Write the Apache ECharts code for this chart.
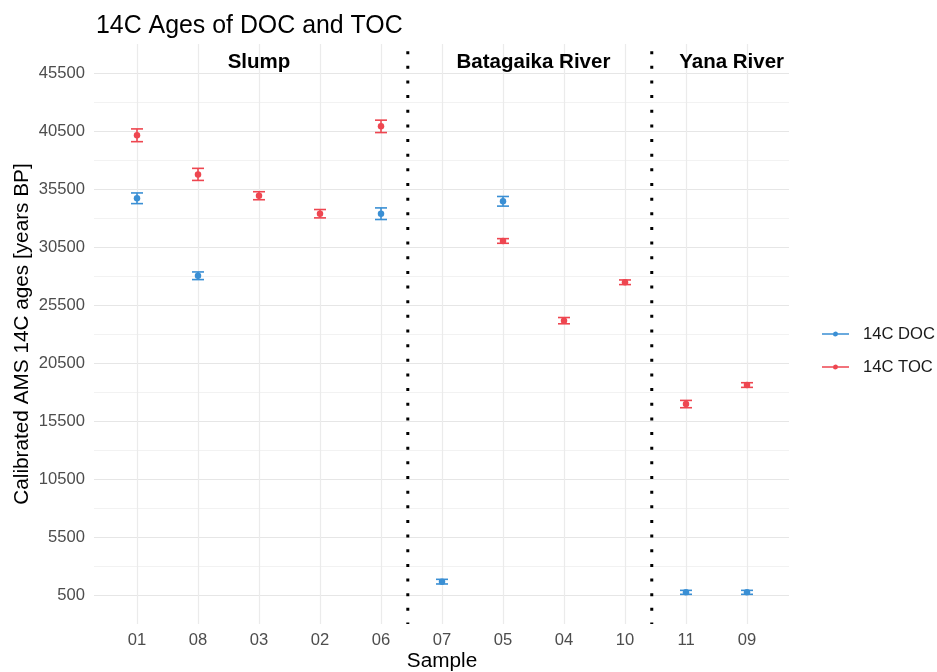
<!DOCTYPE html>
<html><head><meta charset="utf-8">
<script src="https://cdn.jsdelivr.net/npm/echarts@6/dist/echarts.min.js"></script>
<style>html,body{margin:0;padding:0;background:#fff}#c{width:937px;height:672px}</style>
</head><body><div id="c"></div>
<script>
var categories = ['01','08','03','02','06','07','05','04','10','11','09'];
var docValues = [34700, 28020, null, null, 33370, 1650, 34440, null, null, 730, 730];
var docErrors = [460, 330, null, null, 500, 200, 415, null, null, 170, 170];
var tocValues = [40130, 36760, 34920, 33370, 40900, null, 31020, 24150, 27460, 16960, 18600];
var tocErrors = [550, 520, 345, 360, 535, null, 200, 270, 200, 315, 200];
var yMin = -2000, yMax = 48000, yStep = 2500, yLabelStep = 5000, yLabelBase = 500;
var separatorPositions = [4.44, 8.44];
var regionNames = ['Slump', 'Batagaika River', 'Yana River'];
var regionCenters = [2, 6.5, 9.75];
var regionLabelY = 46450;

var FONT = '"Liberation Sans", Arial, sans-serif';
var BLUE = '#3a8fd4', RED = '#ee4650';

function pts(vals){ var out=[]; vals.forEach(function(v,i){ if(v!=null) out.push([i, v]); }); return out; }
function errs(vals, e){ var out=[]; vals.forEach(function(v,i){ if(v!=null) out.push([i, v-e[i], v+e[i]]); }); return out; }
function errRenderer(color){
  return function(params, api){
    var x = api.value(0);
    var lo = api.coord([x, api.value(1)]), hi = api.coord([x, api.value(2)]);
    var w = 6, st = {stroke: color, lineWidth: 1.6};
    return {type:'group', children:[
      {type:'line', shape:{x1:lo[0], y1:lo[1], x2:hi[0], y2:hi[1]}, style:st},
      {type:'line', shape:{x1:lo[0]-w, y1:lo[1], x2:lo[0]+w, y2:lo[1]}, style:st},
      {type:'line', shape:{x1:hi[0]-w, y1:hi[1], x2:hi[0]+w, y2:hi[1]}, style:st}
    ]};
  };
}
var legendIcon = 'path://M0,1.8 L27,1.8 L27,3.2 L0,3.2 Z M13.5,0 A2.5,2.5 0 1,1 13.49,0 Z';

var chart = echarts.init(document.getElementById('c'), null, {renderer:'canvas'});
chart.setOption({
  animation: false,
  backgroundColor: '#fff',
  title: {text: '14C Ages of DOC and TOC', left: 91, top: 9,
    textStyle: {fontFamily: FONT, fontSize: 24.9, fontWeight: 'normal', color: '#000'}},
  legend: {orient: 'vertical', left: 817, top: 319, itemWidth: 27, itemHeight: 5, itemGap: 13,
    icon: legendIcon,
    data: [{name:'14C DOC', icon: legendIcon}, {name:'14C TOC', icon: legendIcon}],
    textStyle: {fontFamily: FONT, fontSize: 16.6, color: '#1a1a1a', lineHeight: 20, padding: [0,0,0,9]}},
  grid: [
    {left: 94, right: 148, top: 44, bottom: 48, containLabel:false, outerBoundsMode:'none'},
    {left: 137, right: 190, top: 44, bottom: 48, containLabel:false, outerBoundsMode:'none'}
  ],
  xAxis: [
    {type:'value', gridIndex:0, min:-0.705, max:10.69, show:false},
    {type:'category', gridIndex:1, data: categories, boundaryGap:false,
      axisLine:{show:false}, axisTick:{show:false},
      splitLine:{show:true, lineStyle:{color:'#ebebeb', width:1.2}},
      axisLabel:{fontFamily:FONT, fontSize:16.6, color:'#4d4d4d', margin:8},
      name:'Sample', nameLocation:'middle', nameGap:27, nameMoveOverlap:false,
      nameTextStyle:{fontFamily:FONT, fontSize:20.75, color:'#000'}}
  ],
  yAxis: [
    {type:'value', gridIndex:0, min:yMin, max:yMax, interval:yStep,
      axisLine:{show:false}, axisTick:{show:false},
      splitLine:{show:true, showMinLine:false, showMaxLine:false, lineStyle:{color:['#e6e6e6','#f2f2f2'], width:1.1}},
      axisLabel:{fontFamily:FONT, fontSize:16.6, color:'#4d4d4d', margin:9,
        formatter:function(v){ return ((v - yLabelBase) % yLabelStep === 0) ? String(v) : ''; }},
      name:'Calibrated AMS 14C ages [years BP]', nameLocation:'middle', nameGap:61, nameMoveOverlap:false,
      nameTextStyle:{fontFamily:FONT, fontSize:20.75, color:'#000'}},
    {type:'value', gridIndex:1, min:yMin, max:yMax, interval:yStep, show:false, splitLine:{show:false}}
  ],
  series: [
    {type:'custom', name:'separators', xAxisIndex:0, yAxisIndex:0, silent:true,
      data: separatorPositions.map(function(x){ return [x, yMin]; }),
      renderItem:function(params, api){
        var x = api.coord([api.value(0), yMin])[0]; var cs = params.coordSys;
        return {type:'line', shape:{x1:x, y1:cs.y, x2:x, y2:cs.y+cs.height},
          style:{stroke:'#000', lineWidth:3, lineDash:[3,11.65], lineDashOffset:7.5, lineCap:'butt'}};
      }},
    {type:'custom', name:'regions', xAxisIndex:0, yAxisIndex:0, silent:true,
      data: regionNames.map(function(n,i){ return [regionCenters[i], regionLabelY, n]; }),
      renderItem:function(params, api){
        var p = api.coord([api.value(0), api.value(1)]);
        return {type:'text', x:p[0], y:p[1], style:{text: regionNames[params.dataIndex], fontFamily:FONT,
          fontSize:20.5, fontWeight:'bold', fill:'#000', align:'center', verticalAlign:'middle'}};
      }},
    {type:'custom', name:'docErr', xAxisIndex:1, yAxisIndex:1, silent:true, data: errs(docValues, docErrors), renderItem: errRenderer(BLUE), z:3},
    {type:'custom', name:'tocErr', xAxisIndex:1, yAxisIndex:1, silent:true, data: errs(tocValues, tocErrors), renderItem: errRenderer(RED), z:3},
    {type:'scatter', name:'14C DOC', xAxisIndex:1, yAxisIndex:1, data: pts(docValues), symbolSize:6.5, itemStyle:{color:BLUE, opacity:1}, z:4},
    {type:'scatter', name:'14C TOC', xAxisIndex:1, yAxisIndex:1, data: pts(tocValues), symbolSize:6.5, itemStyle:{color:RED, opacity:1}, z:4}
  ]
});
</script></body></html>
